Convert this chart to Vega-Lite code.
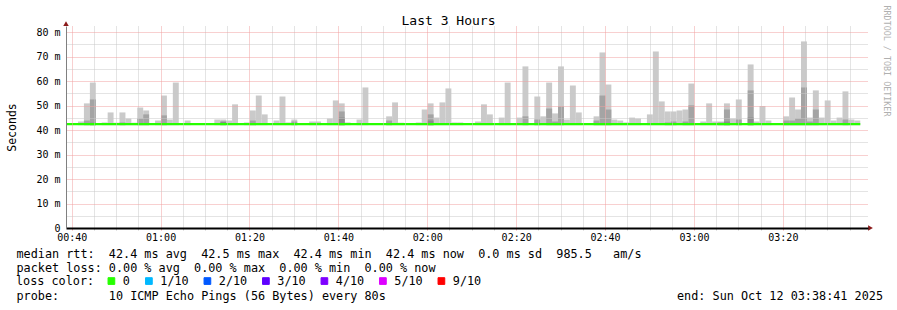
{
  "$schema": "https://vega.github.io/schema/vega-lite/v6.json",
  "width": 802,
  "height": 202,
  "autosize": {"type": "none"},
  "padding": {"left": 66, "top": 26, "right": 29, "bottom": 82},
  "background": "#ffffff",
  "config": {
    "view": {"stroke": null},
    "font": "DejaVu Sans Mono",
    "axis": {"labelFont": "DejaVu Sans Mono", "titleFont": "DejaVu Sans Mono", "titleFontWeight": "normal", "titleColor": "#000000", "labelColor": "#000000"}
  },
  "datasets": {
    "smoke": [
      {"t0": 41.42, "t1": 42.75, "hi": 43.5},
      {"t0": 42.75, "t1": 44.09, "hi": 50.9, "mid": 43.9},
      {"t0": 44.09, "t1": 45.42, "hi": 59.4, "mid": 52.5, "dk": 43.0},
      {"t0": 46.75, "t1": 48.09, "hi": 43.1},
      {"t0": 48.09, "t1": 49.42, "hi": 47.2},
      {"t0": 49.42, "t1": 50.75, "hi": 43.0},
      {"t0": 50.75, "t1": 52.09, "hi": 47.2, "mid": 43.1},
      {"t0": 52.09, "t1": 53.42, "hi": 44.7},
      {"t0": 53.42, "t1": 54.75, "hi": 43.0},
      {"t0": 54.75, "t1": 56.09, "hi": 49.2, "mid": 44.7},
      {"t0": 56.09, "t1": 57.42, "hi": 48.0, "mid": 46.4},
      {"t0": 58.75, "t1": 60.09, "hi": 43.9},
      {"t0": 60.09, "t1": 61.42, "hi": 54.1, "mid": 46.0},
      {"t0": 61.42, "t1": 62.75, "hi": 44.3},
      {"t0": 62.75, "t1": 64.09, "hi": 59.4},
      {"t0": 65.42, "t1": 66.75, "hi": 43.9},
      {"t0": 72.09, "t1": 73.42, "hi": 44.3},
      {"t0": 73.42, "t1": 74.75, "hi": 44.3, "dk": 43.5},
      {"t0": 74.75, "t1": 76.09, "hi": 43.9},
      {"t0": 76.09, "t1": 77.42, "hi": 50.5},
      {"t0": 78.75, "t1": 80.09, "hi": 43.1},
      {"t0": 80.09, "t1": 81.42, "hi": 48.0, "mid": 43.9},
      {"t0": 81.42, "t1": 82.75, "hi": 54.1},
      {"t0": 82.75, "t1": 84.09, "hi": 46.4},
      {"t0": 85.42, "t1": 86.75, "hi": 43.9},
      {"t0": 86.75, "t1": 88.09, "hi": 53.7},
      {"t0": 88.09, "t1": 89.42, "hi": 43.1},
      {"t0": 89.42, "t1": 90.75, "hi": 44.3, "mid": 43.5},
      {"t0": 93.42, "t1": 94.75, "hi": 43.5},
      {"t0": 94.75, "t1": 96.09, "hi": 43.5},
      {"t0": 97.42, "t1": 98.75, "hi": 44.7},
      {"t0": 98.75, "t1": 100.09, "hi": 52.1},
      {"t0": 100.09, "t1": 101.42, "hi": 50.9, "mid": 47.6, "dk": 45.1},
      {"t0": 101.42, "t1": 102.75, "hi": 43.1},
      {"t0": 104.09, "t1": 105.42, "hi": 44.3},
      {"t0": 105.42, "t1": 106.75, "hi": 57.4},
      {"t0": 110.75, "t1": 112.09, "hi": 45.6, "mid": 43.9},
      {"t0": 112.09, "t1": 113.42, "hi": 51.3},
      {"t0": 113.42, "t1": 114.75, "hi": 43.0},
      {"t0": 117.42, "t1": 118.75, "hi": 43.1},
      {"t0": 118.75, "t1": 120.09, "hi": 48.4},
      {"t0": 120.09, "t1": 121.42, "hi": 50.9, "mid": 46.4, "dk": 43.9},
      {"t0": 121.42, "t1": 122.75, "hi": 45.1},
      {"t0": 122.75, "t1": 124.09, "hi": 51.3},
      {"t0": 124.09, "t1": 125.42, "hi": 57.0},
      {"t0": 125.42, "t1": 126.75, "hi": 43.1},
      {"t0": 126.75, "t1": 128.09, "hi": 43.1},
      {"t0": 130.75, "t1": 132.09, "hi": 43.5},
      {"t0": 132.09, "t1": 133.42, "hi": 50.5},
      {"t0": 133.42, "t1": 134.75, "hi": 46.4},
      {"t0": 136.09, "t1": 137.42, "hi": 45.1},
      {"t0": 137.42, "t1": 138.75, "hi": 59.4},
      {"t0": 140.09, "t1": 141.42, "hi": 45.1},
      {"t0": 141.42, "t1": 142.75, "hi": 66.0, "mid": 45.6},
      {"t0": 144.09, "t1": 145.42, "hi": 53.7, "mid": 44.3},
      {"t0": 145.42, "t1": 146.75, "hi": 45.6},
      {"t0": 146.75, "t1": 148.09, "hi": 59.4, "mid": 48.8},
      {"t0": 148.09, "t1": 149.42, "hi": 46.8, "mid": 43.5},
      {"t0": 149.42, "t1": 150.75, "hi": 66.0, "mid": 49.6},
      {"t0": 150.75, "t1": 152.09, "hi": 44.3},
      {"t0": 152.09, "t1": 153.42, "hi": 58.2},
      {"t0": 153.42, "t1": 154.75, "hi": 47.2},
      {"t0": 157.42, "t1": 158.75, "hi": 45.6, "mid": 43.9},
      {"t0": 158.75, "t1": 160.09, "hi": 71.7, "mid": 54.1},
      {"t0": 160.09, "t1": 161.42, "hi": 58.6, "mid": 48.4},
      {"t0": 161.42, "t1": 162.75, "hi": 44.3},
      {"t0": 162.75, "t1": 164.09, "hi": 43.9},
      {"t0": 164.09, "t1": 165.42, "hi": 43.1},
      {"t0": 165.42, "t1": 166.75, "hi": 45.1},
      {"t0": 166.75, "t1": 168.09, "hi": 44.7},
      {"t0": 169.42, "t1": 170.75, "hi": 46.4},
      {"t0": 170.75, "t1": 172.09, "hi": 72.1},
      {"t0": 172.09, "t1": 173.42, "hi": 51.7},
      {"t0": 173.42, "t1": 174.75, "hi": 47.6, "mid": 43.1},
      {"t0": 174.75, "t1": 176.09, "hi": 47.6, "mid": 43.5},
      {"t0": 176.09, "t1": 177.42, "hi": 48.0},
      {"t0": 177.42, "t1": 178.75, "hi": 48.4, "mid": 43.5},
      {"t0": 178.75, "t1": 180.09, "hi": 59.0, "mid": 50.1},
      {"t0": 181.42, "t1": 182.75, "hi": 43.5},
      {"t0": 182.75, "t1": 184.09, "hi": 50.9},
      {"t0": 184.09, "t1": 185.42, "hi": 43.5},
      {"t0": 185.42, "t1": 186.75, "hi": 43.5, "mid": 43.1},
      {"t0": 186.75, "t1": 188.09, "hi": 50.9, "mid": 48.4, "dk": 43.5},
      {"t0": 188.09, "t1": 189.42, "hi": 44.7},
      {"t0": 189.42, "t1": 190.75, "hi": 52.5, "mid": 44.3},
      {"t0": 192.09, "t1": 193.42, "hi": 66.8, "mid": 56.2, "dk": 45.1},
      {"t0": 193.42, "t1": 194.75, "hi": 43.5},
      {"t0": 194.75, "t1": 196.09, "hi": 49.8},
      {"t0": 196.09, "t1": 197.42, "hi": 43.9},
      {"t0": 200.09, "t1": 201.42, "hi": 45.6, "mid": 43.9},
      {"t0": 201.42, "t1": 202.75, "hi": 53.3, "mid": 43.9},
      {"t0": 202.75, "t1": 204.09, "hi": 48.4, "mid": 44.7},
      {"t0": 204.09, "t1": 205.42, "hi": 76.2, "mid": 57.4},
      {"t0": 205.42, "t1": 206.75, "hi": 45.1, "mid": 43.5},
      {"t0": 206.75, "t1": 208.09, "hi": 56.2, "mid": 48.4},
      {"t0": 208.09, "t1": 209.42, "hi": 45.1},
      {"t0": 209.42, "t1": 210.75, "hi": 52.1},
      {"t0": 210.75, "t1": 212.09, "hi": 43.9},
      {"t0": 212.09, "t1": 213.42, "hi": 45.1},
      {"t0": 213.42, "t1": 214.75, "hi": 55.8, "mid": 44.3},
      {"t0": 214.75, "t1": 216.09, "hi": 44.3},
      {"t0": 216.09, "t1": 217.42, "hi": 43.9}
    ]
  },
  "layer": [
    {
      "data": {"name": "smoke"},
      "mark": {"type": "rect", "color": "#cacaca"},
      "encoding": {
        "x": {"field": "t0", "type": "quantitative",
          "scale": {"domain": [38.717, 219.16], "nice": false, "zero": false},
          "axis": {"orient": "bottom", "values": [45,50,55,65,70,75,85,90,95,105,110,115,125,130,135,145,150,155,165,170,175,185,190,195,205,210,215],
            "grid": true, "gridColor": "#c8c8c8", "gridDash": [1,1], "gridWidth": 1,
            "domain": false, "labels": false, "ticks": true, "tickColor": "#c8c8c8", "tickSize": 2,
            "title": "probe:\u00a0\u00a0\u00a0\u00a0\u00a0\u00a0\u00a010 ICMP Echo Pings (56 Bytes) every 80s\u00a0\u00a0\u00a0\u00a0\u00a0\u00a0\u00a0\u00a0\u00a0\u00a0\u00a0\u00a0\u00a0\u00a0\u00a0\u00a0\u00a0\u00a0\u00a0\u00a0\u00a0\u00a0\u00a0\u00a0\u00a0\u00a0\u00a0\u00a0\u00a0\u00a0\u00a0\u00a0\u00a0\u00a0\u00a0\u00a0\u00a0\u00a0\u00a0\u00a0\u00a0end: Sun Oct 12 03:38:41 2025",
            "titleFontSize": 11.8, "titleAlign": "left", "titleAnchor": "start", "titleBaseline": "alphabetic",
            "titleX": -50, "titleY": 71.5, "zindex": 1}},
        "x2": {"field": "t1"},
        "y": {"field": "hi", "type": "quantitative",
          "scale": {"domain": [0, 82.5], "nice": false, "zero": false},
          "axis": {"orient": "left", "values": [5,15,25,35,45,55,65,75], "grid": true, "gridColor": "#c8c8c8", "gridDash": [1,1], "gridWidth": 1,
            "domain": false, "labels": false, "ticks": false, "title": null, "zindex": 1}},
        "y2": {"datum": 42}
      }
    },
    {
      "data": {"name": "smoke"},
      "mark": {"type": "rect", "color": "#a4a4a4"},
      "encoding": {
        "x": {"field": "t0", "type": "quantitative",
          "axis": {"orient": "bottom", "values": [40,60,80,100,120,140,160,180,200],
            "grid": true, "gridColor": "#f0a0a0", "gridDash": [1,1], "gridWidth": 1,
            "domain": true, "domainColor": "#000000", "domainWidth": 2,
            "ticks": true, "tickColor": "#f0a0a0", "tickSize": 2,
            "labels": true, "labelExpr": "format(floor(datum.value/60),'02d') + ':' + format(datum.value%60,'02d')",
            "labelFont": "DejaVu Sans Mono", "labelFontSize": 10, "labelPadding": 2, "labelFlush": false, "labelOverlap": false,
            "title": [
              "median rtt:\u00a0\u00a042.4 ms avg\u00a0\u00a042.5 ms max\u00a0\u00a042.4 ms min\u00a0\u00a042.4 ms now\u00a0\u00a00.0 ms sd\u00a0\u00a0985.5\u00a0\u00a0\u00a0am/s",
              "packet loss: 0.00 % avg\u00a0\u00a00.00 % max\u00a0\u00a00.00 % min\u00a0\u00a00.00 % now"
            ],
            "titleFontSize": 11.8, "titleAlign": "left", "titleAnchor": "start", "titleBaseline": "alphabetic",
            "titleX": -50, "titleY": 29.5, "titleLineHeight": 14, "zindex": 1}},
        "x2": {"field": "t1"},
        "y": {"field": "mid", "type": "quantitative",
          "axis": {"orient": "left", "values": [0,10,20,30,40,50,60,70,80], "grid": true,
            "gridColor": {"condition": {"test": "datum.value == 0", "value": "transparent"}, "value": "#f0a0a0"},
            "gridDash": [1,1], "gridWidth": 1,
            "domain": true, "domainColor": "#808080", "domainWidth": 1, "ticks": false,
            "labelExpr": "datum.value == 0 ? '0' : datum.value + ' m'", "labelFontSize": 10, "labelPadding": 6,
            "title": "Seconds", "titleFontSize": 11.5, "titlePadding": 18, "zindex": 1}},
        "y2": {"datum": 42}
      }
    },
    {
      "data": {"name": "smoke"},
      "mark": {"type": "rect", "color": "#8c8c8c"},
      "encoding": {
        "x": {"field": "t0", "type": "quantitative",
          "axis": {"orient": "top", "domain": false, "labels": false, "ticks": false, "grid": false,
            "title": "Last 3 Hours", "titleFontSize": 13, "titleX": 382, "titleY": -2, "titleAlign": "center", "titleBaseline": "alphabetic"}},
        "x2": {"field": "t1"},
        "y": {"field": "dk", "type": "quantitative",
          "axis": {"orient": "right", "domain": false, "labels": false, "ticks": false, "grid": false,
            "title": "RRDTOOL / TOBI OETIKER", "titleAngle": 90, "titleX": 18, "titleY": -21, "titleAlign": "left", "titleBaseline": "middle",
            "titleFontSize": 8.4, "titleColor": "#b0b0b0"}},
        "y2": {"datum": 42}
      }
    },
    {
      "data": {"values": [
        {"t": 38.717, "med": 42.45, "loss": "0"},
        {"t": 217.42, "med": 42.45, "loss": "0"}
      ]},
      "mark": {"type": "line", "strokeWidth": 2.3},
      "encoding": {
        "x": {"field": "t", "type": "quantitative", "axis": null},
        "y": {"field": "med", "type": "quantitative", "axis": null},
        "color": {"field": "loss", "type": "nominal",
          "scale": {"domain": ["0","1/10","2/10","3/10","4/10","5/10","9/10"],
                    "range": ["#26ff00","#00b8ff","#0059ff","#5e00ff","#7e00ff","#dd00ff","#ff0000"]},
          "legend": {"orient": "none", "legendX": -50, "legendY": 249, "direction": "horizontal",
            "title": "loss color:", "titleOrient": "left", "titleFont": "DejaVu Sans Mono", "titleFontSize": 11.8,
            "titleFontWeight": "normal", "titleColor": "#000000", "titlePadding": 10.5,
            "labelFont": "DejaVu Sans Mono", "labelFontSize": 11.8, "labelColor": "#000000", "labelOffset": 5.5,
            "columnPadding": 12.5, "padding": 0, "symbolType": "square", "symbolSize": 45,
            "encode": {"symbols": {"update": {
              "fill": {"scale": "color", "field": "value"},
              "stroke": {"value": "#000000"},
              "strokeWidth": {"value": 1},
              "opacity": {"value": 1},
              "shape": {"value": "square"}}}}}}
      }
    },
    {
      "data": {"values": [{}]},
      "mark": {"type": "point", "shape": "triangle-up", "filled": true, "color": "#8b1a1a", "size": 30, "opacity": 1},
      "encoding": {
        "x": {"datum": 38.717, "type": "quantitative", "axis": null},
        "y": {"datum": 83.5, "type": "quantitative", "axis": null}
      }
    },
    {
      "data": {"values": [{}]},
      "mark": {"type": "point", "shape": "triangle-right", "filled": true, "color": "#8b1a1a", "size": 30, "opacity": 1},
      "encoding": {
        "x": {"datum": 219.72, "type": "quantitative", "axis": null},
        "y": {"datum": 0, "type": "quantitative", "axis": null}
      }
    }
  ],
  "resolve": {"axis": {"x": "independent", "y": "independent"}}
}
